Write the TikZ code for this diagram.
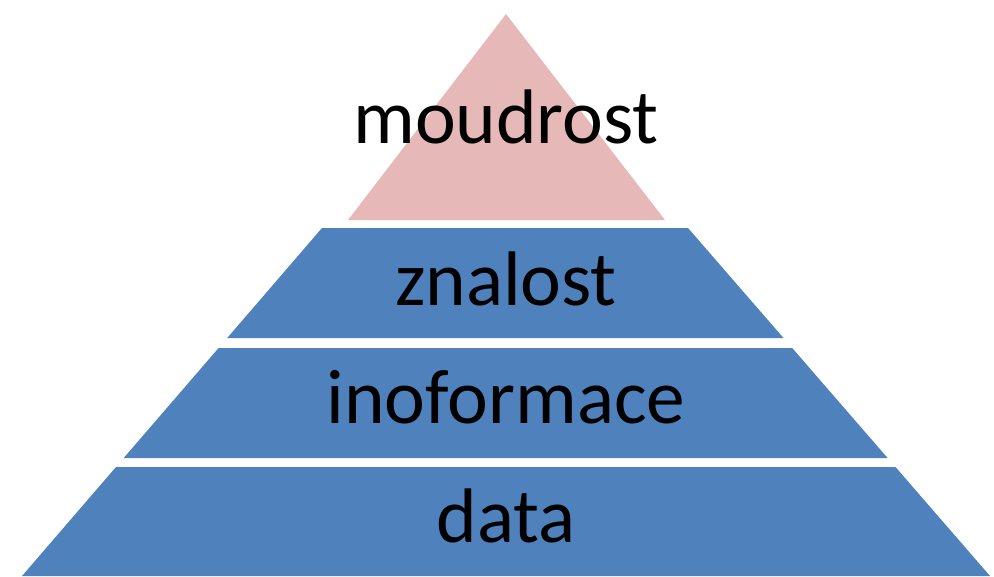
\documentclass[tikz,border=0pt]{standalone}
\usepackage{fontspec}
\setmainfont{Carlito}

\begin{document}
\begin{tikzpicture}[x=0.02cm, y=-0.02cm]
    \definecolor{pyrblue}{HTML}{4F81BD}
    \definecolor{pyrpink}{HTML}{E6B9B8}

    \tikzset{
        layer/.style={fill=pyrblue},
        toplayer/.style={fill=pyrpink},
        word/.style={anchor=base, inner sep=0pt, text=black, font=\fontsize{44}{50}\selectfont}
    }

    \useasboundingbox (0,0) rectangle (994,576);

    % top of the pyramid
    \path[toplayer] (506,14) -- (665,220) -- (348,220) -- cycle;
    % the three blue layers
    \path[layer] (322,228) -- (688,228) -- (783.5,338) -- (227.2,338) -- cycle;
    \path[layer] (218.6,348) -- (792.2,348) -- (887.6,458) -- (123.7,458) -- cycle;
    \path[layer] (116,467) -- (895.5,467) -- (990,576) -- (22,576) -- cycle;

    \node[word] (wisdom) at (506,143) {moudrost};
    \node[word] (knowledge) at (506,305) {znalost};
    \node[word] (information) at (506,423) {inoformace};
    \node[word] (datalayer) at (506,542) {data};

\end{tikzpicture}
\end{document}
